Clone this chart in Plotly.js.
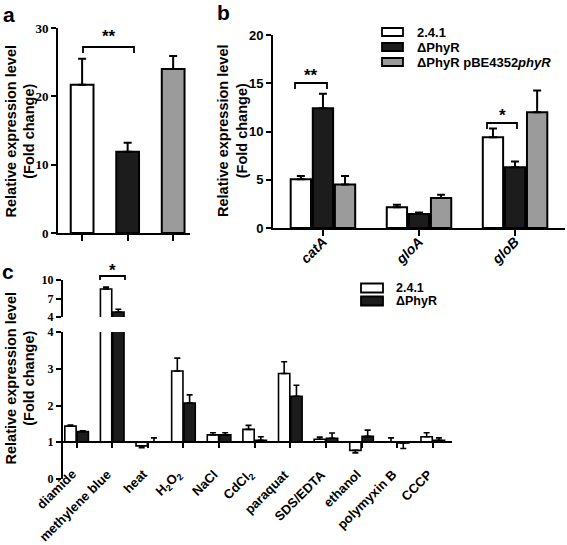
<!DOCTYPE html>
<html>
<head>
<meta charset="utf-8">
<script src="https://cdn.plot.ly/plotly-3.0.1.min.js"></script>
<style>html,body{margin:0;padding:0;background:#fff;}#chart{width:567px;height:545px;}</style>
</head>
<body>
<div id="chart"></div>
<script>
// ---------- data ----------
// Panel a
var aValues = [21.7, 11.9, 24.0];
var aErrors = [3.8, 1.3, 1.9];
var aColors = ['#ffffff', '#1c1c1c', '#9b9b9b'];

// Panel b
var bCategories = ['catA', 'gloA', 'gloB'];
var bTickLabels = ['<i>catA</i>', '<i>gloA</i>', '<i>gloB</i>'];
var bSeriesNames = ['2.4.1', '\u0394PhyR', '\u0394PhyR pBE4352<i>phyR</i>'];
var bWT = [5.05, 2.15, 9.4];
var bWTerr = [0.35, 0.25, 0.9];
var bDel = [12.4, 1.45, 6.3];
var bDelerr = [1.5, 0.15, 0.6];
var bComp = [4.5, 3.1, 12.0];
var bComperr = [0.9, 0.35, 2.25];

// Panel c
var cCategories = ['diamide', 'methylene blue', 'heat', 'H2O2', 'NaCl', 'CdCl2', 'paraquat', 'SDS/EDTA', 'ethanol', 'polymyxin B', 'CCCP'];
var cTickLabels = ['diamide', 'methylene blue', 'heat', 'H<sub>2</sub>O<sub>2</sub>', 'NaCl', 'CdCl<sub>2</sub>', 'paraquat', 'SDS/EDTA', 'ethanol', 'polymyxin B', 'CCCP'];
var cSeriesNames = ['2.4.1', '\u0394PhyR'];
var cWT = [1.44, 8.53, 0.90, 2.94, 1.20, 1.35, 2.87, 1.08, 0.78, 1.00, 1.15];
var cWTerr = [0.03, 0.32, 0.05, 0.35, 0.06, 0.11, 0.32, 0.06, 0.07, 0.12, 0.11];
var cDel = [1.29, 4.82, 1.01, 2.07, 1.20, 1.05, 2.25, 1.11, 1.16, 0.98, 1.05];
var cDelerr = [0.02, 0.44, 0.11, 0.22, 0.06, 0.10, 0.30, 0.14, 0.17, 0.15, 0.07];

// ---------- helpers ----------
var W = 567, H = 545;
function X(px) { return px / W; }
function Y(py) { return 1 - py / H; }
var SANS = 'Liberation Sans, Arial, sans-serif';
var SERIF = 'Liberation Serif, Times New Roman, serif';
var WHITE = '#ffffff', BLACK = '#1c1c1c', GRAY = '#9b9b9b';

function idx(n) { var r = []; for (var i = 0; i < n; i++) r.push(i); return r; }
function errUp(v, e, base) { return v.map(function (d, i) { return d >= base ? e[i] : 0; }); }
function errDown(v, e, base) { return v.map(function (d, i) { return d < base ? e[i] : 0; }); }

var traces = [];

// Panel a
traces.push({
  type: 'bar', x: idx(aValues.length), y: aValues, width: 0.5,
  xaxis: 'x', yaxis: 'y', showlegend: false,
  marker: { color: aColors, line: { color: '#000', width: 2 } },
  error_y: { type: 'data', array: aErrors, arrayminus: aErrors.map(function () { return 0; }), symmetric: false, color: '#000', thickness: 2, width: 4 }
});

// Panel b
[[bWT, bWTerr, WHITE], [bDel, bDelerr, BLACK], [bComp, bComperr, GRAY]].forEach(function (s, k) {
  traces.push({
    type: 'bar', name: bSeriesNames[k], x: idx(bCategories.length), y: s[0],
    xaxis: 'x2', yaxis: 'y2', showlegend: false,
    marker: { color: s[2], line: { color: '#000', width: 2 } },
    error_y: { type: 'data', array: s[1], arrayminus: s[1].map(function () { return 0; }), symmetric: false, color: '#000', thickness: 2, width: 4 }
  });
});

// Panel c (lower segment x3/y3, upper segment x4/y4), bars start at 1
[['x3', 'y3'], ['x4', 'y4']].forEach(function (ax) {
  [[cWT, cWTerr, WHITE], [cDel, cDelerr, BLACK]].forEach(function (s, k) {
    traces.push({
      type: 'bar', name: cSeriesNames[k], x: idx(cCategories.length),
      y: s[0].map(function (v) { return v - 1; }), base: 1,
      xaxis: ax[0], yaxis: ax[1], showlegend: false,
      marker: { color: s[2], line: { color: '#000', width: 1.6 } },
      error_y: { type: 'data', array: errUp(s[0], s[1], 1), arrayminus: errDown(s[0], s[1], 1), symmetric: false, color: '#000', thickness: 1.6, width: 3 }
    });
  });
});

var axisCommon = {
  showline: true, linecolor: '#000', linewidth: 2, showgrid: false, zeroline: false,
  ticks: 'outside', ticklen: 5, tickwidth: 2, tickcolor: '#000', fixedrange: true
};
function ax(o) { var r = {}; for (var k in axisCommon) r[k] = axisCommon[k]; for (var k2 in o) r[k2] = o[k2]; return r; }

var annotations = [];
var shapes = [];

function ann(text, px, py, size, extra) {
  var a = { text: text, x: X(px), y: Y(py), xref: 'paper', yref: 'paper', showarrow: false,
    font: { family: SANS, size: size, color: '#000', weight: 'bold' }, xanchor: 'center', yanchor: 'middle' };
  for (var k in extra || {}) a[k] = extra[k];
  annotations.push(a);
}
// panel letters
ann('a', 9, 14, 21);
ann('b', 223, 13, 21);
ann('c', 8, 271, 21);
// y titles
ann('Relative expression level<br>(Fold change)', 19.5, 131, 14.5, { textangle: -90 });
ann('Relative expression level<br>(Fold change)', 232, 131, 14.5, { textangle: -90 });
ann('Relative expression level<br>(Fold change)', 19.5, 378, 14.5, { textangle: -90 });

// panel c category labels (rotated), placed on the x3 category positions
cTickLabels.forEach(function (t, i) {
  annotations.push({ text: t, x: i, xref: 'x3', y: Y(464), yref: 'paper', showarrow: false,
    textangle: -45, xanchor: 'right', yanchor: 'top', xshift: 5,
    font: { family: SANS, size: 13, color: '#000', weight: 'bold' } });
});

// significance brackets
function bracket(x0, x1, yTop, yBot, label, labelY) {
  shapes.push({ type: 'path', xref: 'paper', yref: 'paper',
    path: 'M' + X(x0) + ',' + Y(yBot) + ' L' + X(x0) + ',' + Y(yTop) + ' L' + X(x1) + ',' + Y(yTop) + ' L' + X(x1) + ',' + Y(yBot),
    line: { color: '#000', width: 1.8 } });
  ann(label, (x0 + x1) / 2, labelY, 17);
}
bracket(83, 134, 47, 53, '**', 37);
bracket(295, 327, 83, 89, '**', 75);
bracket(487, 517, 123, 129, '*', 115);
bracket(100, 125, 276, 280, '*', 270);

// legends
function legendBox(x0, y0, x1, y1, color) {
  shapes.push({ type: 'rect', xref: 'paper', yref: 'paper', x0: X(x0), x1: X(x1), y0: Y(y1), y1: Y(y0),
    fillcolor: color, line: { color: '#000', width: 1.8 } });
}
var bColors = [WHITE, BLACK, GRAY];
[32, 47, 62].forEach(function (cy, i) {
  legendBox(382, cy - 4, 403, cy + 4, bColors[i]);
  ann(bSeriesNames[i], 415, cy, 13, { xanchor: 'left' });
});
var cColors = [WHITE, BLACK];
[288, 301].forEach(function (cy, i) {
  legendBox(361, cy - 4.5, 383, cy + 4.5, cColors[i]);
  ann(cSeriesNames[i], 394, cy, 12.5, { xanchor: 'left' });
});

var layout = {
  width: W, height: H,
  margin: { l: 0, r: 0, t: 0, b: 0, pad: 0 },
  paper_bgcolor: '#fff', plot_bgcolor: 'rgba(0,0,0,0)',
  barmode: 'group', bargap: 0.31, bargroupgap: 0.08,
  showlegend: false,
  font: { family: SANS, color: '#000' },
  // panel a
  xaxis: ax({ domain: [X(58), X(190)], anchor: 'y', range: [-0.53, 2.37], tickvals: [0, 1, 2], showticklabels: false, ticklen: 6 }),
  yaxis: ax({ domain: [Y(233), Y(28)], anchor: 'x', range: [0, 30], tickvals: [0, 10, 20, 30],
    tickfont: { family: SERIF, size: 13, weight: 'bold', color: '#000' } }),
  // panel b
  xaxis2: ax({ domain: [X(273), X(565)], anchor: 'y2', range: [-0.52, 2.52], tickvals: idx(bCategories.length), ticktext: bTickLabels,
    tickangle: -45, ticklen: 6, ticklabelstandoff: -8, tickfont: { family: SANS, size: 14, weight: 'bold', color: '#000' } }),
  yaxis2: ax({ domain: [Y(228), Y(35)], anchor: 'x2', range: [0, 20], tickvals: [0, 5, 10, 15, 20],
    tickfont: { family: SANS, size: 13, weight: 'bold', color: '#000' } }),
  // panel c lower: x axis crosses the y axis at 1
  xaxis3: ax({ domain: [X(62), X(452)], anchor: 'free', position: Y(442), range: [-0.41, 10.54],
    tickvals: idx(cCategories.length), showticklabels: false, ticklen: 5 }),
  yaxis3: ax({ domain: [Y(479), Y(332)], anchor: 'free', position: X(62), range: [0, 4], tickvals: [0, 1, 2, 3, 4],
    tickfont: { family: SERIF, size: 12, weight: 'bold', color: '#000' } }),
  // panel c upper
  xaxis4: { domain: [X(62), X(452)], anchor: 'y4', range: [-0.41, 10.54], visible: false, fixedrange: true },
  yaxis4: ax({ domain: [Y(317), Y(280)], anchor: 'free', position: X(62), range: [4, 10], tickvals: [4, 7, 10],
    tickfont: { family: SERIF, size: 12, weight: 'bold', color: '#000' } }),
  annotations: annotations,
  shapes: shapes
};

Plotly.newPlot('chart', traces, layout, { displayModeBar: false, staticPlot: true });
</script>
</body>
</html>
